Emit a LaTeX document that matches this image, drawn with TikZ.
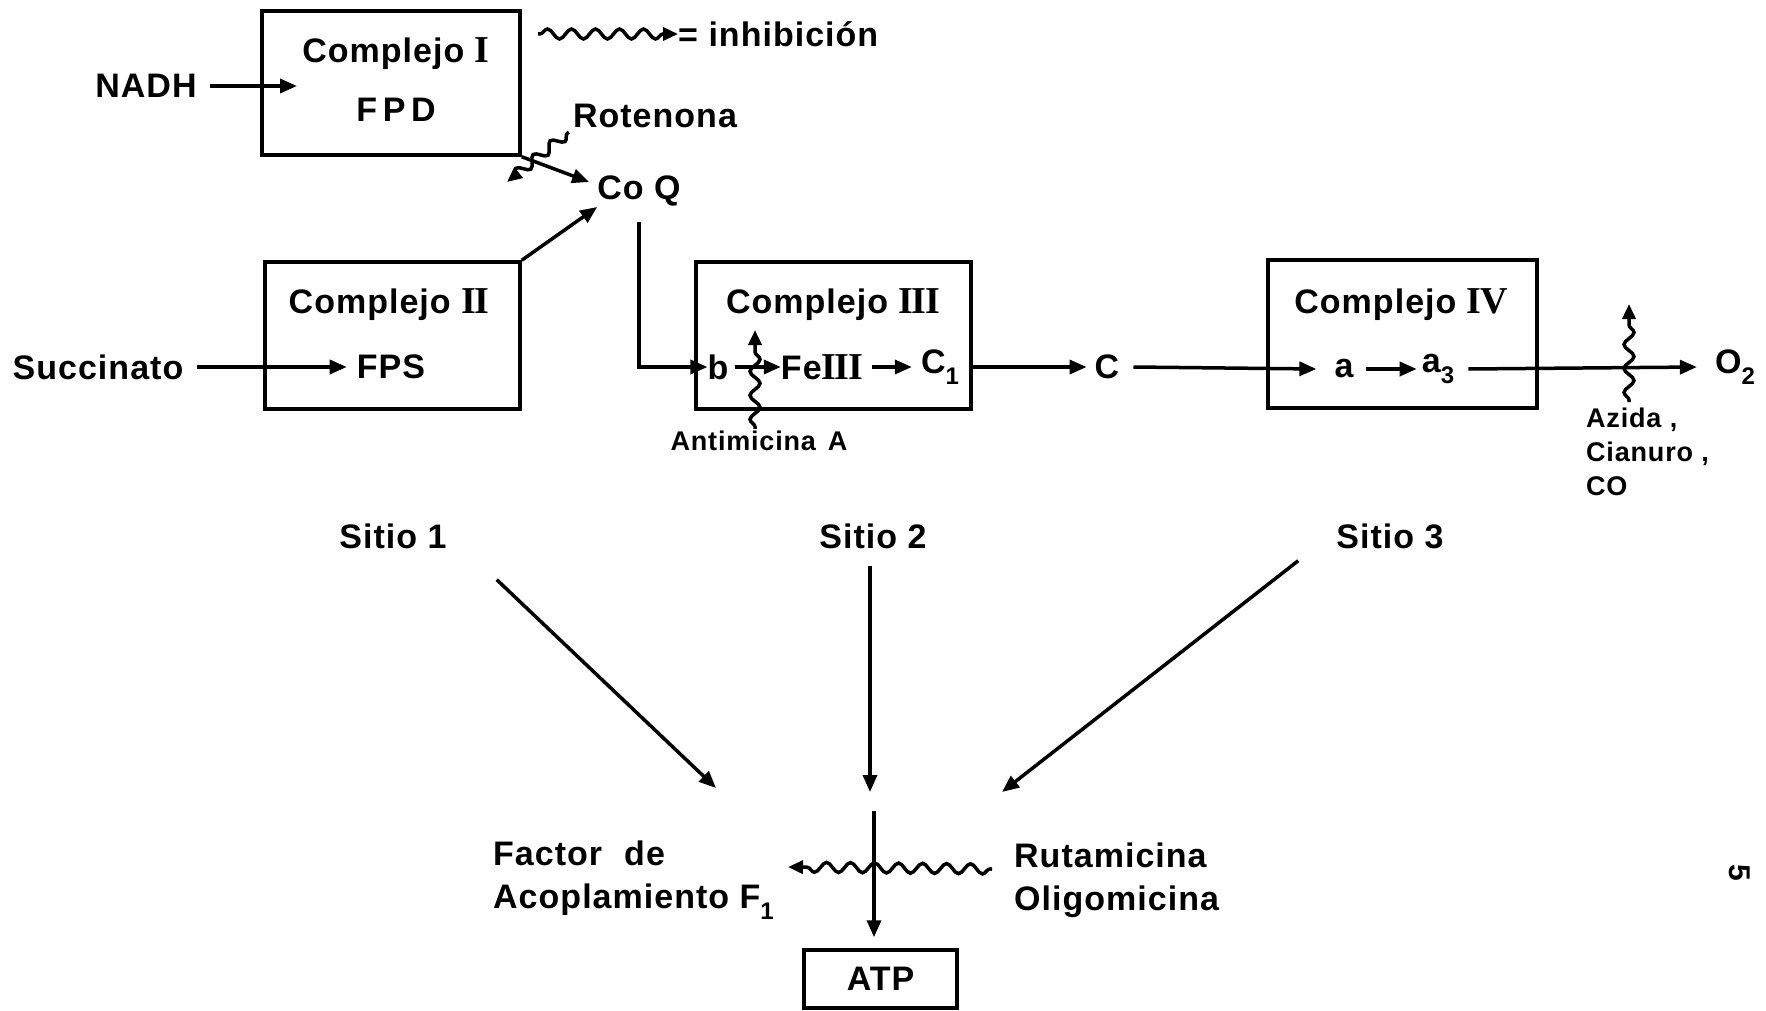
\documentclass[tikz,border=0pt]{standalone}
\usepackage{fontspec}
\setmainfont{Liberation Sans}[LetterSpace=3]
\newfontfamily\romnum{Liberation Serif}[LetterSpace=-4]
\usetikzlibrary{arrows.meta,decorations.pathmorphing}
\newcommand{\sbs}[1]{\raisebox{-0.32em}{\fontsize{24}{24}\selectfont #1}}
\newcommand{\rn}[1]{{\romnum\fontsize{38}{43}\selectfont #1}}
\begin{document}
\begin{tikzpicture}[x=1pt,y=-1pt,
  every node/.style={font=\fontsize{34}{43}\selectfont\bfseries, inner sep=0pt},
  box/.style={draw, line width=3.5pt},
  arr/.style={line width=3.5pt, -{Triangle[length=17pt,width=14pt]}},
  inh/.style={line width=3.5pt, decorate,
    decoration={snake, amplitude=5pt, segment length=24pt, pre length=2pt, post length=10pt},
    -{Triangle[length=15pt,width=13pt]}},
  small/.style={font=\fontsize{27}{34}\selectfont\bfseries}]
\fill[white] (0,0) rectangle (1766,1011);
\useasboundingbox (0,0) rectangle (1766,1011);

% boxes
\node[box, minimum width=258pt, minimum height=144pt] (c1) at (391,83) {};
\node[box, minimum width=255pt, minimum height=147pt] (c2) at (392.5,335.5) {};
\node[box, minimum width=275pt, minimum height=147pt] (c3) at (833.5,335.5) {};
\node[box, minimum width=269pt, minimum height=148pt] (c4) at (1402.5,334) {};
\node[box, minimum width=153pt, minimum height=58pt] (atp) at (880.5,979) {ATP};

% box texts
\node (t1) at (396,54) {Complejo \rn{I}};
\node (fpd) at (396,110) {F\,P\,D};
\node (t2) at (389,305) {Complejo \rn{II}};
\node (fps) at (391,367) {FPS};
\node (t3) at (833,305) {Complejo \rn{III}};
\node (t4) at (1401,305) {Complejo \rn{IV}};

% left inputs
\node (nadh) at (146,86) {NADH};
\coordinate (c1in) at (297,86);
\draw[arr] ([xshift=13pt]nadh.east) -- (c1in);
\node (succ) at (98,367) {Succinato};
\draw[arr] ([xshift=13pt]succ.east) -- ([xshift=-10pt]fps.west);

% legend
\node[anchor=west] (inhib) at (678,34) {= inhibición};
\coordinate (lg0) at (538,34);
\draw[inh] (lg0) -- (inhib.west);

% CoQ
\node (coq) at (639,191) {Co Q};
\node (rot) at (655,116) {Rotenona};
\draw[arr] (c1.south east) -- ([xshift=-8pt,yshift=9pt]coq.west);
\draw[arr] (c2.north east) -- ([xshift=0pt,yshift=-16pt]coq.west);
\coordinate (rotend) at (507,182);
\draw[inh, decoration={snake, amplitude=5pt, segment length=22pt, pre length=2pt, post length=8pt}]
  ([xshift=-4pt,yshift=-4pt]rot.south west) -- (rotend);

% complex III content
\node (b) at (718,367) {b};
\node (fe) at (822,367) {Fe\rn{III}};
\node (c1t) at (940,367) {C\sbs{1}};
\draw[arr] ([yshift=-16pt]coq.south) |- (b.west);
\draw[arr] ([xshift=6pt]b.east) -- (fe.west);
\draw[arr] ([xshift=9pt]fe.east) -- ([xshift=-9pt]c1t.west);
\node[small] (anti) at (759,441) {Antimicina\hspace{12pt}A};
\coordinate (antitop) at (755,330);
\draw[inh] ([xshift=-4pt,yshift=2pt]anti.north) -- (antitop);

% C and complex IV
\node (cc) at (1107,367) {C};
\draw[arr] (c3.east |- cc) -- ([xshift=-8pt]cc.west);
\node (a) at (1344,369) {a};
\node (a3) at (1438,369) {a\sbs{3}};
\node (o2) at (1735,367) {O\sbs{2}};
\draw[arr] ([xshift=14pt]cc.east) -- ([xshift=-18pt]a.west);
\draw[arr] ([xshift=12pt]a.east) -- ([xshift=-5pt]a3.west);
\draw[arr] ([xshift=14pt]a3.east) -- ([xshift=-18pt]o2.west);
\node[small, anchor=north west, align=left] (azida) at (1586,408) {Azida ,\\Cianuro ,\\CO};
\coordinate (aztop) at (1629,304);
\draw[inh] ([xshift=43pt,yshift=6pt]azida.north west) -- (aztop);

% sites
\node (s1) at (393,536) {Sitio 1};
\node (s2) at (873,536) {Sitio 2};
\node (s3) at (1390,536) {Sitio 3};
\coordinate (e1) at (716,788);
\coordinate (e2) at (870,792);
\coordinate (e3) at (1002,792);
\draw[arr] ([xshift=50pt,yshift=-31pt]s1.south east) -- (e1);
\draw[arr] ([xshift=-3pt,yshift=-17pt]s2.south) -- (e2);
\draw[arr] ([xshift=-38pt,yshift=-12pt]s3.south west) -- (e3);

% ATP part
\coordinate (v0) at (874,811);
\draw[arr, shorten >=11pt] (v0) -- (v0 |- atp.north);
\node[anchor=west, align=left] (factor) at (493,880) {Factor\hspace{22pt}de\\Acoplamiento F\sbs{1}};
\node[anchor=west, align=left] (ruta) at (1014,880) {Rutamicina\\Oligomicina};
\draw[inh] ([xshift=-22pt,yshift=11pt]ruta.west) -- ([xshift=14pt,yshift=13pt]factor.east);

% page number
\node[font=\fontsize{30}{30}\selectfont\bfseries, rotate=-90] (pg) at (1740,873) {5};
\end{tikzpicture}
\end{document}
